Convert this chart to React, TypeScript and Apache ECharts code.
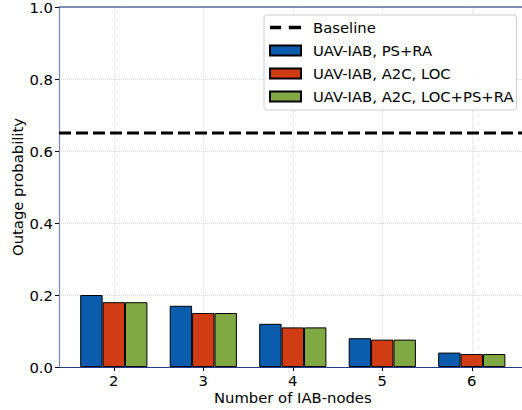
import React, { useEffect, useRef } from "react";
import * as echarts from "echarts";

const categories = [2, 3, 4, 5, 6];
const psRa = [0.2, 0.17, 0.12, 0.08, 0.04];
const a2cLoc = [0.18, 0.15, 0.11, 0.076, 0.036];
const a2cLocPsRa = [0.18, 0.15, 0.11, 0.076, 0.036];
const baseline = 0.65;
const yTicks = [0, 0.2, 0.4, 0.6, 0.8, 1.0];

const X_MIN = 1.3875;
const X_MAX = 6.6125;
const FONT = "DejaVu Sans";
const FS = 14.8;

export default function App() {
  const ref = useRef<HTMLDivElement>(null);
  useEffect(() => {
    if (!ref.current) return;
    const chart = echarts.init(ref.current, undefined, { renderer: "svg" });
    const barCommon = {
      type: "bar",
      barWidth: 22.4,
      barGap: "0%",
      itemStyle: { borderColor: "#000", borderWidth: 1 },
    };
    chart.setOption({
      animation: false,
      backgroundColor: "#fff",
      textStyle: { fontFamily: FONT },
      grid: {
        left: 59,
        top: 7,
        width: 467.6,
        height: 360,
        containLabel: false,
        outerBoundsMode: "none",
      },
      legend: {
        orient: "vertical",
        left: 264,
        top: 15,
        padding: [5, 3, 6, 5],
        itemGap: 8,
        itemWidth: 31,
        itemHeight: 10,
        backgroundColor: "rgba(255,255,255,0.85)",
        borderColor: "#cccccc",
        borderWidth: 1,
        borderRadius: 3,
        textStyle: {
          fontFamily: FONT,
          fontSize: FS,
          lineHeight: 14,
          color: "#000",
          padding: [0, 0, 0, 7],
        },
        data: [
          { name: "Baseline", icon: "path://M0,0h10v3h-10z M17,0h11v3h-11z" },
          { name: "UAV-IAB, PS+RA", icon: "rect" },
          { name: "UAV-IAB, A2C, LOC", icon: "rect" },
          { name: "UAV-IAB, A2C, LOC+PS+RA", icon: "rect" },
        ],
      },
      xAxis: {
        type: "value",
        min: X_MIN,
        max: X_MAX,
        name: "Number of IAB-nodes",
        nameLocation: "middle",
        nameGap: 23,
        nameMoveOverlap: false,
        nameTextStyle: { fontFamily: FONT, fontSize: FS, color: "#000" },
        axisLine: { show: true, onZero: false, lineStyle: { color: "#1f3c88", width: 1.2 } },
        axisTick: {
          show: true,
          length: 4,
          customValues: categories,
          lineStyle: { color: "#000" },
        },
        axisLabel: {
          customValues: categories,
          fontFamily: FONT,
          fontSize: FS,
          color: "#000",
          margin: 6,
          formatter: (v: number) => String(Math.round(v)),
        },
        splitLine: {
          show: true,
          lineStyle: { color: "#cfcfcf", type: [1, 1], width: 0.8 },
        },
      },
      yAxis: [
        {
          type: "value",
          min: 0,
          max: 1,
          interval: 0.2,
          name: "Outage probability",
          nameLocation: "middle",
          nameGap: 34,
          nameMoveOverlap: false,
          nameTextStyle: { fontFamily: FONT, fontSize: FS, color: "#000" },
          axisLine: { show: true, lineStyle: { color: "#7585b5", width: 1.2 } },
          axisTick: { show: true, length: 4, lineStyle: { color: "#000" } },
          axisLabel: {
            fontFamily: FONT,
            fontSize: FS,
            color: "#000",
            margin: 6,
            formatter: (v: number) => {
              const t = yTicks.find((y) => Math.abs(y - v) < 1e-6);
              return (t ?? v).toFixed(1);
            },
          },
          splitLine: {
            show: true,
            lineStyle: { color: "#cfcfcf", type: [1, 1], width: 0.8 },
          },
        },
      ],
      graphic: [
        {
          type: "line",
          shape: { x1: 59, y1: 7, x2: 522, y2: 7 },
          style: { stroke: "#5a6aa0", lineWidth: 1.5 },
          z: 10,
        },
      ],
      series: [
        {
          name: "Baseline",
          type: "line",
          symbol: "none",
          data: [
            [X_MIN, baseline],
            [X_MAX, baseline],
          ],
          lineStyle: { color: "#000", width: 3, type: [12, 5] },
          itemStyle: { color: "#000" },
          z: 5,
        },
        {
          ...barCommon,
          name: "UAV-IAB, PS+RA",
          data: categories.map((c, i) => [c, psRa[i]]),
          itemStyle: { ...barCommon.itemStyle, color: "#0b5cad" },
        },
        {
          ...barCommon,
          name: "UAV-IAB, A2C, LOC",
          data: categories.map((c, i) => [c, a2cLoc[i]]),
          itemStyle: { ...barCommon.itemStyle, color: "#d03d14" },
        },
        {
          ...barCommon,
          name: "UAV-IAB, A2C, LOC+PS+RA",
          data: categories.map((c, i) => [c, a2cLocPsRa[i]]),
          itemStyle: { ...barCommon.itemStyle, color: "#80a843" },
        },
      ],
    });
    return () => chart.dispose();
  }, []);
  return <div ref={ref} style={{ width: 522, height: 410, position: "absolute", left: 0, top: 0 }} />;
}
